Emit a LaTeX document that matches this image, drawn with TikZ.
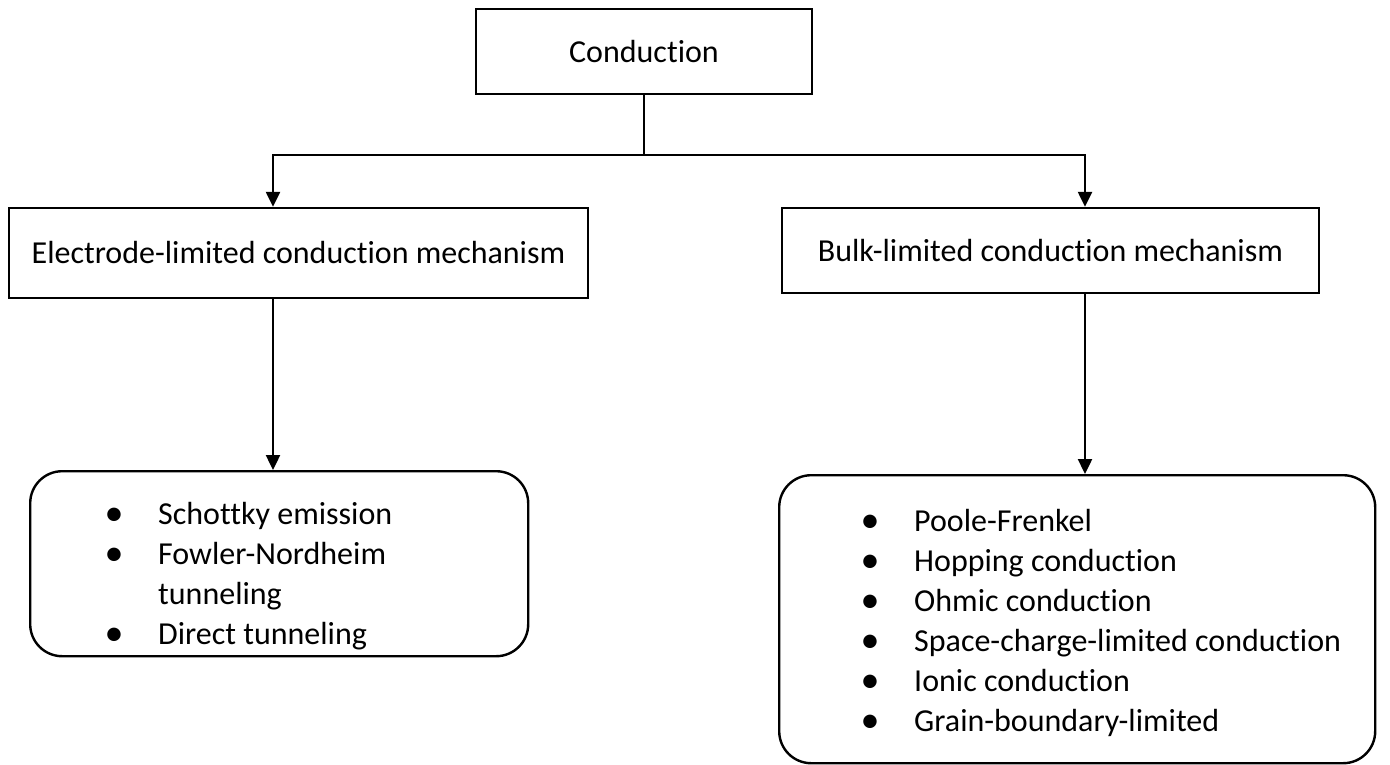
\documentclass[tikz,border=0pt]{standalone}
\usepackage{fontspec}
\setmainfont{Carlito}[Ligatures={NoCommon}]
\usetikzlibrary{arrows.meta}
\newcommand{\bitem}[1]{\makebox[0pt][c]{\raisebox{-1.3pt}{\fontsize{38}{40}\selectfont\textbullet}}\hspace{44pt}#1}

\begin{document}
\begin{tikzpicture}[x=1pt,y=-1pt,every path/.style={>={Triangle[length=15pt,width=14pt]},line width=2.4pt},every node/.style={draw,rectangle,font=\fontsize{32}{40}\selectfont}]
		\useasboundingbox (0,0) rectangle (1390,764);
		\node[minimum width=336pt,minimum height=85pt] (cond) at (644,51.5) {Conduction};
		\node[minimum width=579pt,minimum height=90pt] (electrode) at (298.5,253) {Electrode-limited conduction mechanism};
		\node[minimum width=537pt,minimum height=85pt] (bulk) at (1050.5,250.5) {Bulk-limited conduction mechanism};
		\node[rounded corners=32pt,anchor=north west,inner sep=0pt,text width=498pt,align=flush left,text height=53pt,text depth=132pt] (elist) at (29,470) {\hspace*{84pt}\bitem{Schottky emission}\\ \hspace*{84pt}\bitem{Fowler-Nordheim}\\ \hspace*{128pt}tunneling\\ \hspace*{84pt}\bitem{Direct tunneling}};
		\node[rounded corners=32pt,anchor=north west,inner sep=0pt,text width=596pt,align=flush left,text height=56pt,text depth=232pt] (blist) at (778,474) {\hspace*{91pt}\bitem{Poole-Frenkel}\\ \hspace*{91pt}\bitem{Hopping conduction}\\ \hspace*{91pt}\bitem{Ohmic conduction}\\ \hspace*{91pt}\bitem{Space-charge-limited conduction}\\ \hspace*{91pt}\bitem{Ionic conduction}\\ \hspace*{91pt}\bitem{Grain-boundary-limited}};
		
		\coordinate (split) at (644,155);
		\coordinate (lturn) at (273,155);
		\coordinate (rturn) at (1085,155);
		
		\draw (cond) -- (split);
		\draw[->] (split) -- (lturn) -- (lturn |- electrode.north);
		\draw[->] (split) -- (rturn) -- (rturn |- bulk.north);
		\draw[->] (electrode.south -| lturn) -- (lturn |- elist.north);
		\draw[->] (bulk.south -| rturn) -- (rturn |- blist.north);
	\end{tikzpicture}
\end{document}
